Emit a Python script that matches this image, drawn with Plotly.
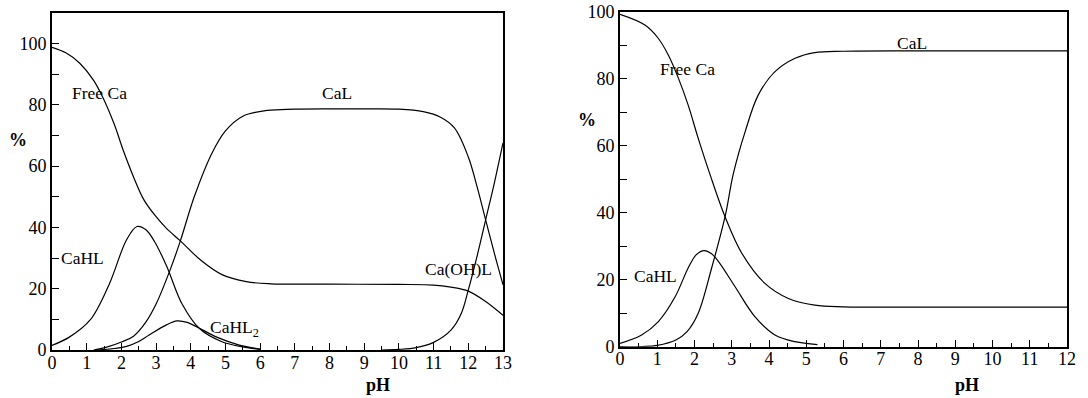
import plotly.graph_objects as go

# ---------------- Left panel data (pH 0-13) ----------------
free_ca_x = [0, 0.4, 0.8, 1.2, 1.5, 1.8, 2.05, 2.35, 2.65, 3.0, 3.3, 3.7, 4.3, 4.9, 5.6, 6.3, 8, 10, 11, 11.5, 12, 12.5, 13]
free_ca_y = [98.8, 97.0, 93.6, 88.0, 81.6, 73.5, 65.3, 56.5, 49.0, 43.5, 39.7, 35.6, 29.2, 24.6, 22.3, 21.6, 21.5, 21.4, 21.2, 20.5, 19.2, 15.8, 11.3]

cahl_x = [0, 0.5, 1.1, 1.65, 2.15, 2.45, 2.7, 2.95, 3.3, 3.75, 4.25, 4.9, 5.5, 6.0]
cahl_y = [1.5, 4.2, 9.8, 21.5, 36.0, 40.3, 39.3, 35.5, 27.5, 15.0, 7.0, 2.7, 1.0, 0.2]

cal_x = [1.2, 1.6, 2.0, 2.35, 2.7, 3.0, 3.4, 3.7, 4.1, 4.6, 5.0, 5.5, 6.2, 7, 8, 9, 10, 10.7, 11.2, 11.6, 12.0, 12.25, 12.5, 12.75, 13]
cal_y = [0, 1.0, 2.6, 4.5, 9.0, 15.0, 26.0, 35.6, 50.0, 64.0, 71.5, 76.3, 78.2, 78.6, 78.7, 78.7, 78.6, 77.8, 76.0, 72.5, 63.0, 53.4, 42.5, 31.6, 21.3]

cahl2_x = [1.3, 1.8, 2.15, 2.5, 2.8, 3.3, 3.6, 3.9, 4.2, 4.75, 5.4, 6.0]
cahl2_y = [0, 0.5, 1.2, 2.8, 4.9, 8.2, 9.5, 9.0, 7.4, 4.2, 1.6, 0.3]

caohl_x = [9.5, 10, 10.5, 11, 11.5, 11.8, 12, 12.25, 12.5, 12.75, 13]
caohl_y = [0, 0.2, 0.8, 2.5, 6.5, 12.0, 19.6, 30.5, 42.5, 54.5, 67.6]

# ---------------- Right panel data (pH 0-12) ----------------
free_ca_r_x = [0, 0.67, 1.03, 1.3, 1.57, 1.83, 2.1, 2.42, 2.82, 3.27, 3.89, 4.52, 5.23, 6, 8, 10, 12]
free_ca_r_y = [99.2, 96.0, 92.0, 87.0, 80.1, 72.1, 62.2, 51.3, 38.8, 27.9, 18.9, 14.4, 12.4, 11.9, 11.8, 11.8, 11.8]

cal_r_x = [0, 0.6, 1.0, 1.5, 1.8, 2.1, 2.46, 2.82, 3.04, 3.36, 3.71, 4.16, 4.7, 5.23, 6, 8, 10, 12]
cal_r_y = [0, 0.05, 0.4, 2.0, 4.5, 10.0, 23.5, 38.8, 51.5, 64.2, 75.1, 82.1, 86.1, 87.8, 88.2, 88.3, 88.3, 88.3]

cahl_r_x = [0, 0.58, 1.03, 1.48, 1.83, 2.05, 2.26, 2.45, 2.64, 3.09, 3.62, 4.16, 4.7, 5.3]
cahl_r_y = [1.0, 3.5, 7.5, 14.9, 23.5, 27.5, 28.7, 27.8, 25.5, 17.9, 9.0, 3.5, 1.5, 0.6]

x_ticks_left = list(range(0, 14))
x_ticks_right = list(range(0, 13))
y_ticks_left = [0, 20, 40, 60, 80, 100]
y_ticks_right = [0, 20, 40, 60, 80, 100]

FONT = "Liberation Serif"
line = dict(color="black", width=1.2, shape="spline", smoothing=1.0)

fig = go.Figure()
for xs, ys in [(free_ca_x, free_ca_y), (cahl_x, cahl_y), (cal_x, cal_y), (cahl2_x, cahl2_y), (caohl_x, caohl_y)]:
    fig.add_trace(go.Scatter(x=xs, y=ys, mode="lines", line=line, xaxis="x", yaxis="y", showlegend=False, hoverinfo="skip"))
for xs, ys in [(free_ca_r_x, free_ca_r_y), (cal_r_x, cal_r_y), (cahl_r_x, cahl_r_y)]:
    fig.add_trace(go.Scatter(x=xs, y=ys, mode="lines", line=line, xaxis="x2", yaxis="y2", showlegend=False, hoverinfo="skip"))

W, H = 1088, 398
def dom_x(a, b):
    return [a / W, b / W]
def dom_y(top, bottom):
    return [(H - bottom) / H, (H - top) / H]

axis_common = dict(
    showgrid=False, zeroline=False, showline=True, linecolor="black", linewidth=2,
    mirror=True, ticks="inside", tickcolor="black", tickwidth=1.2, ticklen=7,
    tickfont=dict(family=FONT, size=18, color="black"), automargin=False,
)

fig.update_layout(
    width=W, height=H, margin=dict(l=0, r=0, t=0, b=0, autoexpand=False),
    paper_bgcolor="white", plot_bgcolor="white",
    font=dict(family=FONT, color="black"),
    xaxis=dict(axis_common, domain=dom_x(52, 503), range=[0, 13], tickvals=x_ticks_left, ticklabelstandoff=-5,
               minor=dict(dtick=0.5, ticks="inside", ticklen=4, tickcolor="black", tickwidth=1.2), anchor="y"),
    yaxis=dict(axis_common, domain=dom_y(13, 350), range=[0, 110], tickvals=y_ticks_left,
               minor=dict(dtick=10, ticks="inside", ticklen=7, tickcolor="black", tickwidth=1.2), anchor="x"),
    xaxis2=dict(axis_common, domain=dom_x(620, 1067), range=[0, 12], tickvals=x_ticks_right, ticklabelstandoff=-5,
                minor=dict(dtick=0.5, ticks="inside", ticklen=4, tickcolor="black", tickwidth=1.2), anchor="y2"),
    yaxis2=dict(axis_common, domain=dom_y(11.7, 346.7), range=[0, 100], tickvals=y_ticks_right,
                minor=dict(dtick=10, ticks="inside", ticklen=7, tickcolor="black", tickwidth=1.2), anchor="x2"),
)

def ann(text, x, y, bold=False, size=17.5):
    fig.add_annotation(text=("<b>%s</b>" % text) if bold else text, x=x / W, y=(H - y) / H,
                       xref="paper", yref="paper", showarrow=False,
                       font=dict(family=FONT, size=size, color="black"), xanchor="center", yanchor="middle")

# series labels
ann("Free Ca", 99, 93)
ann("CaL", 337, 93)
ann("CaHL", 82, 258)
ann("CaHL<sub>2</sub>", 234, 328)
ann("Ca(OH)L", 458, 269)
ann("Free Ca", 687, 69)
ann("CaL", 912, 43)
ann("CaHL", 655, 276)
# axis titles
ann("%", 18, 140, bold=True, size=18)
ann("pH", 378, 385, bold=True, size=18)
ann("%", 587, 120, bold=True, size=18)
ann("pH", 967, 385, bold=True, size=18)

fig.write_html("out.html", config={"displayModeBar": False},
               post_script="document.body.style.margin='0';document.body.style.padding='0';")
